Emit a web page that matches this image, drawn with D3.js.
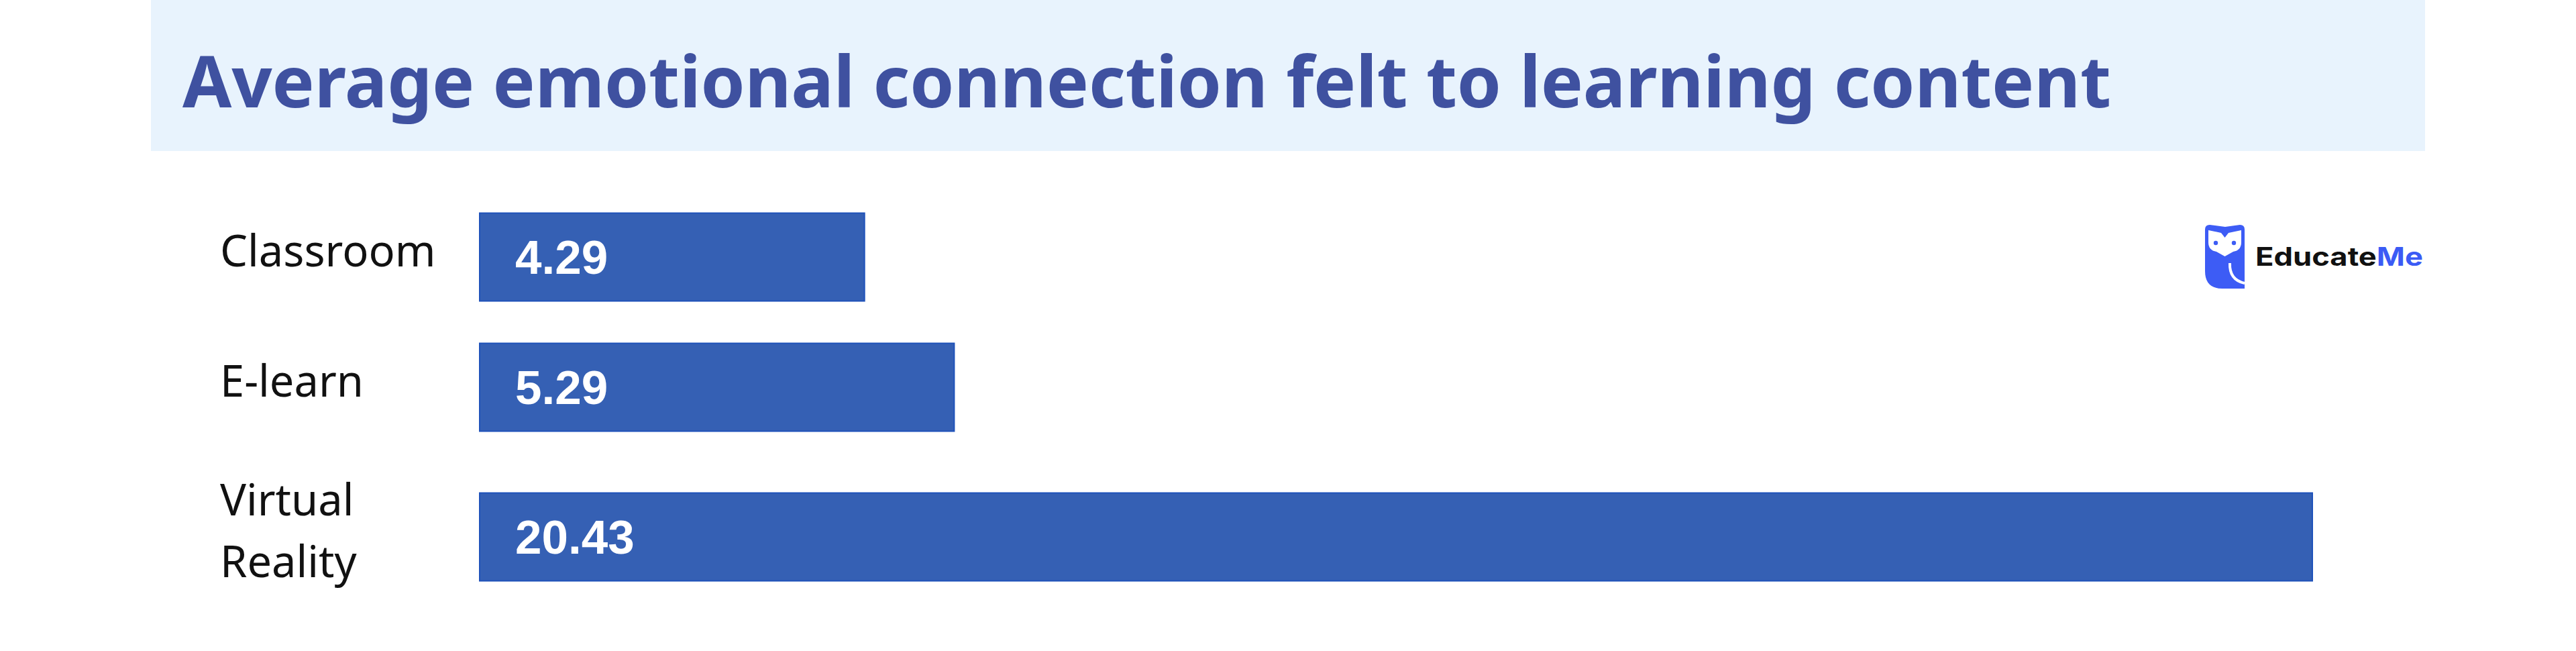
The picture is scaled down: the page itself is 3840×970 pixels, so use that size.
<!DOCTYPE html>
<html>
<head>
<meta charset="utf-8">
<script src="https://cdn.jsdelivr.net/npm/d3@7"></script>
<style>
  html, body { margin: 0; padding: 0; background: #ffffff; }
  svg { display: block; }
</style>
</head>
<body>
<svg id="chart" width="3840" height="970"></svg>
<script>
// ---- data ----
const title = "Average emotional connection felt to learning content";
const categories = ["Classroom", "E-learn", "Virtual Reality"];
const categoryLines = [["Classroom"], ["E-learn"], ["Virtual", "Reality"]];
const values = [4.29, 5.29, 20.43];
const valueLabels = ["4.29", "5.29", "20.43"];
const brandParts = ["Educate", "Me"];

// ---- layout ----
const svg = d3.select("#chart");

// header band
svg.append("rect")
  .attr("x", 225).attr("y", 0)
  .attr("width", 3615 - 225).attr("height", 225)
  .attr("fill", "#e8f3fd");

svg.append("text")
  .attr("x", 272).attr("y", 160)
  .attr("font-family", "'Noto Sans', 'Open Sans', sans-serif")
  .attr("font-weight", 700)
  .attr("font-size", 106)
  .attr("fill", "#3f51a0")
  .attr("textLength", 2875)
  .attr("lengthAdjust", "spacing")
  .text(title);

// scales
const barLeft = 715, barRight = 3447;
const x = d3.scaleLinear()
  .domain([0, d3.max(values)])
  .range([barLeft, barRight]);

const barH = 131;
const firstCenter = 383, rowStep = 194, extraPerLine = 29;
// cumulative row centres (extra room for multi-line labels)
const centers = [];
categories.forEach((c, i) => {
  if (i === 0) centers.push(firstCenter);
  else centers.push(centers[i - 1] + rowStep + extraPerLine * (categoryLines[i].length - 1));
});
const y = d3.scaleOrdinal().domain(categories).range(centers);

const rows = categories.map((c, i) => ({ cat: c, lines: categoryLines[i], v: values[i], label: valueLabels[i] }));

// bars
svg.append("g").selectAll("rect")
  .data(rows).join("rect")
  .attr("x", x(0))
  .attr("y", d => y(d.cat) - barH / 2)
  .attr("width", d => x(d.v) - x(0))
  .attr("height", barH)
  .attr("fill", "#3560b4")
  .attr("stroke", "#1f52ba")
  .attr("stroke-width", 2);

// value labels
svg.append("g").selectAll("text")
  .data(rows).join("text")
  .attr("x", x(0) + 53)
  .attr("y", d => y(d.cat) + 25)
  .attr("font-family", "'Liberation Sans', Arial, sans-serif")
  .attr("font-weight", 700)
  .attr("font-size", 71)
  .attr("fill", "#ffffff")
  .text(d => d.label);

// category labels
const lineGap = 92;
const catG = svg.append("g");
rows.forEach(d => {
  const n = d.lines.length;
  const t = catG.append("text")
    .attr("font-family", "'Noto Sans', sans-serif")
    .attr("font-size", 65)
    .attr("fill", "#111111");
  d.lines.forEach((ln, k) => {
    t.append("tspan")
      .attr("x", 328)
      .attr("y", y(d.cat) + 14 + (k - (n - 1) / 2) * lineGap)
      .text(ln);
  });
});

// brand logo
const logo = svg.append("g").attr("transform", "translate(3287,335)");
logo.append("path")
  .attr("d", "M0,7 Q0,0 7,0 L30,3 L52,0 Q59,0 59,7 L59,95 L26,95 Q0,95 0,69 Z")
  .attr("fill", "#3d5cf5");
logo.append("path")
  .attr("d", "M5,8 L24,12 L29.5,19 L35,12 L54,8 L54,26 Q54,38 42,40 L29.5,47 L17,40 Q5,38 5,26 Z")
  .attr("fill", "#ffffff");
logo.append("circle").attr("cx", 16).attr("cy", 27).attr("r", 3.2).attr("fill", "#3d5cf5");
logo.append("circle").attr("cx", 43).attr("cy", 27).attr("r", 3.2).attr("fill", "#3d5cf5");
logo.append("path")
  .attr("d", "M37,57 Q36,82 59,87")
  .attr("fill", "none")
  .attr("stroke", "#ffffff")
  .attr("stroke-width", 4);

const brand = svg.append("text")
  .attr("x", 3362).attr("y", 396)
  .attr("font-family", "'Inter', 'Noto Sans', sans-serif")
  .attr("font-weight", 700)
  .attr("font-size", 38)
  .attr("textLength", 250)
  .attr("lengthAdjust", "spacingAndGlyphs");
brand.append("tspan").attr("fill", "#111111").text(brandParts[0]);
brand.append("tspan").attr("fill", "#3b5bf5").text(brandParts[1]);
</script>
</body>
</html>
